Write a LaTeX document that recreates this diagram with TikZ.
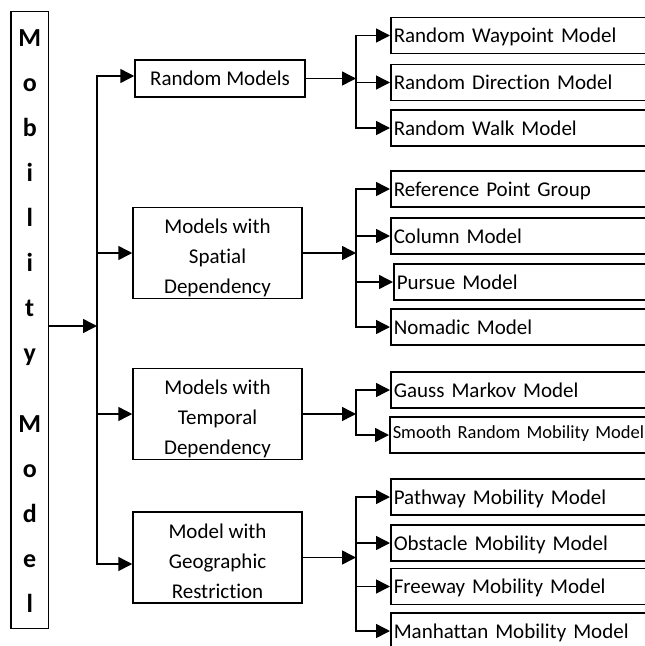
\documentclass[tikz,border=0pt]{standalone}
\usepackage{fontspec}
\setmainfont{Carlito}[Ligatures=NoCommon]
\usetikzlibrary{arrows.meta}

\tikzset{
  catbox/.style={draw,minimum width=169pt,align=center,font=\fontsize{21}{30}\selectfont},
  tallbox/.style={catbox,minimum height=91pt,inner ysep=1pt,text height=81pt,text depth=0pt},
  subbox/.style={draw,anchor=west,minimum height=36pt,text width=275pt,inner xsep=3pt,inner ysep=2pt,
    text height=16pt,text depth=2pt,align=left,font=\fontsize{21}{25}\selectfont},
  arr/.style={-{Triangle[length=14pt,width=14pt]}},
  link/.style={line cap=rect}
}

\begin{document}
\begin{tikzpicture}[x=1pt,y=-1pt,line width=1.5pt]
  \useasboundingbox (0,0) rectangle (645,646);
  \begin{scope}
    % left column
    \draw (29.75,320) node[draw,minimum width=37.5pt,minimum height=617pt,align=center,
      text height=584pt,text depth=0pt,font=\bfseries\fontsize{26}{45}\selectfont](mm)
      {M\\o\\b\\i\\l\\i\\t\\y\\[26pt]M\\o\\d\\e\\l};
    % model families
    \draw (220,78.5) node[catbox,minimum width=170pt,minimum height=37pt,text height=16pt,text depth=2pt](rm) {Random Models};
    \draw (217.5,253) node[tallbox](sp) {Models with\\Spatial\\Dependency};
    \draw (217.5,414) node[tallbox](tp) {Models with\\Temporal\\Dependency};
    \draw (217.5,557.5) node[tallbox](gr) {Model with\\Geographic\\Restriction};
    % single models
    \draw (390,35.5) node[subbox](wp) {Random Waypoint Model};
    \draw (390,82.5) node[subbox](rd) {Random Direction Model};
    \draw (390,128) node[subbox](rw) {Random Walk Model};
    \draw (390,189) node[subbox](rpg) {Reference Point Group};
    \draw (390,236) node[subbox](col) {Column Model};
    \draw (393,282) node[subbox](pur) {Pursue Model};
    \draw (390,327) node[subbox](nom) {Nomadic Model};
    \draw (390,390) node[subbox](gm) {Gauss Markov Model};
    \draw (389,435) node[subbox,text height=12pt,text depth=6pt,font=\fontsize{18.5}{22}\selectfont](srm) {Smooth Random Mobility Model};
    \draw (390,497) node[subbox](pw) {Pathway Mobility Model};
    \draw (390,543) node[subbox](obs) {Obstacle Mobility Model};
    \draw (390,586.5) node[subbox](fw) {Freeway Mobility Model};
    \draw (390,631) node[subbox](mh) {Manhattan Mobility Model};
  \end{scope}

  % trunk
  \coordinate (sTop) at (97,76);
  \coordinate (sMid) at (97,326);
  \coordinate (sBot) at (97,564);
  \coordinate (bx) at (356,0);
  \draw[arr] (sMid -| mm.east) -- (sMid);
  \draw[link] (sTop) -- (sBot);
  \draw[arr] (sTop) -- (sTop -| rm.west);
  \draw[arr] (sp.west -| sTop) -- (sp.west);
  \draw[arr] (tp.west -| sTop) -- (tp.west);
  \draw[arr] (sBot) -- (sBot -| gr.west);

  % random
  \draw[arr] (rm.east) -- (rm.east -| bx);
  \draw[link] (wp.west -| bx) -- (rw.west -| bx);
  \draw[arr] (wp.west -| bx) -- (wp.west);
  \draw[arr] (rd.west -| bx) -- (rd.west);
  \draw[arr] (rw.west -| bx) -- (rw.west);

  % spatial
  \draw[arr] (sp.east) -- (sp.east -| bx);
  \draw[link] (rpg.west -| bx) -- (nom.west -| bx);
  \draw[arr] (rpg.west -| bx) -- (rpg.west);
  \draw[arr] (col.west -| bx) -- (col.west);
  \draw[arr] (pur.west -| bx) -- (pur.west);
  \draw[arr] (nom.west -| bx) -- (nom.west);

  % temporal
  \draw[arr] (tp.east) -- (tp.east -| bx);
  \draw[link] (gm.west -| bx) -- (srm.west -| bx);
  \draw[arr] (gm.west -| bx) -- (gm.west);
  \draw[arr] (srm.west -| bx) -- (srm.west);

  % geographic
  \draw[arr] (gr.east) -- (gr.east -| bx);
  \draw[link] (pw.west -| bx) -- (mh.west -| bx);
  \draw[arr] (pw.west -| bx) -- (pw.west);
  \draw[arr] (obs.west -| bx) -- (obs.west);
  \draw[arr] (fw.west -| bx) -- (fw.west);
  \draw[arr] (mh.west -| bx) -- (mh.west);
\end{tikzpicture}
\end{document}
